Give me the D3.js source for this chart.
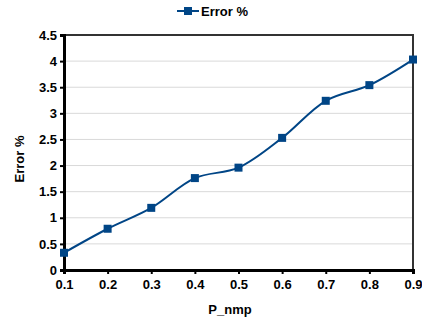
<!DOCTYPE html>
<html><head><meta charset="utf-8">
<script src="https://cdn.jsdelivr.net/npm/d3@7"></script>
<style>body{margin:0;background:#fff}text{font-family:"Liberation Sans",Arial,sans-serif;font-weight:bold}</style>
</head><body><svg id="c" width="422" height="322"></svg>
<script>
const xValues = [0.1,0.2,0.3,0.4,0.5,0.6,0.7,0.8,0.9];
const errorValues = [0.33,0.79,1.19,1.76,1.96,2.53,3.24,3.54,4.03];
const yTicks = [0,0.5,1,1.5,2,2.5,3,3.5,4,4.5];
const seriesName = "Error %";
const xTitle = "P_nmp", yTitle = "Error %";

const svg = d3.select("#c");
const L=64,R=413,T=35,B=270;
const x = d3.scaleLinear().domain([0.1,0.9]).range([L,R]);
const y = d3.scaleLinear().domain([0,4.5]).range([B,T]);
const color="#004586";

// gridlines
svg.append("g").selectAll("line").data(yTicks.slice(1,-1)).join("line")
 .attr("x1",L).attr("x2",R).attr("y1",d=>y(d)).attr("y2",d=>y(d))
 .attr("stroke","#d9d9d9").attr("stroke-width",1);
// top & right border
svg.append("path").attr("d",`M${L},${T}H${R}V${B}`).attr("fill","none").attr("stroke","#333").attr("stroke-width",2);

const ya = svg.append("g").attr("transform",`translate(${L},0)`)
 .call(d3.axisLeft(y).tickValues(yTicks).tickFormat(d3.format("")).tickSize(4).tickPadding(3));
const xa = svg.append("g").attr("transform",`translate(0,${B})`)
 .call(d3.axisBottom(x).tickValues(xValues).tickFormat(d3.format("")).tickSize(4).tickPadding(3));
[ya,xa].forEach(a=>{a.select(".domain").attr("stroke","#000").attr("stroke-width",3);
 a.selectAll(".tick line").attr("stroke","#000").attr("stroke-width",2);
 a.selectAll("text").attr("font-size",13).attr("fill","#000").style("font-weight","bold");});
xa.selectAll("text").attr("dy","0.95em");

const data = xValues.map((v,i)=>[v,errorValues[i]]);
svg.append("path").datum(data).attr("fill","none").attr("stroke",color).attr("stroke-width",2)
 .attr("d",d3.line().x(d=>x(d[0])).y(d=>y(d[1])).curve(d3.curveCatmullRom.alpha(0.5)));
svg.append("g").selectAll("rect").data(data).join("rect")
 .attr("x",d=>x(d[0])-4).attr("y",d=>y(d[1])-4).attr("width",8).attr("height",8).attr("fill",color);

// legend
const lg = svg.append("g");
lg.append("line").attr("x1",177).attr("x2",199).attr("y1",11).attr("y2",11).attr("stroke",color).attr("stroke-width",2);
lg.append("rect").attr("x",184).attr("y",7).attr("width",8).attr("height",8).attr("fill",color);
lg.append("text").attr("x",201).attr("y",16).attr("font-size",13).text(seriesName);

svg.append("text").attr("x",230).attr("y",314).attr("text-anchor","middle").attr("font-size",13).text(xTitle);
svg.append("text").attr("transform",`translate(24,159) rotate(-90)`).attr("text-anchor","middle").attr("font-size",13).text(yTitle);
</script></body></html>
